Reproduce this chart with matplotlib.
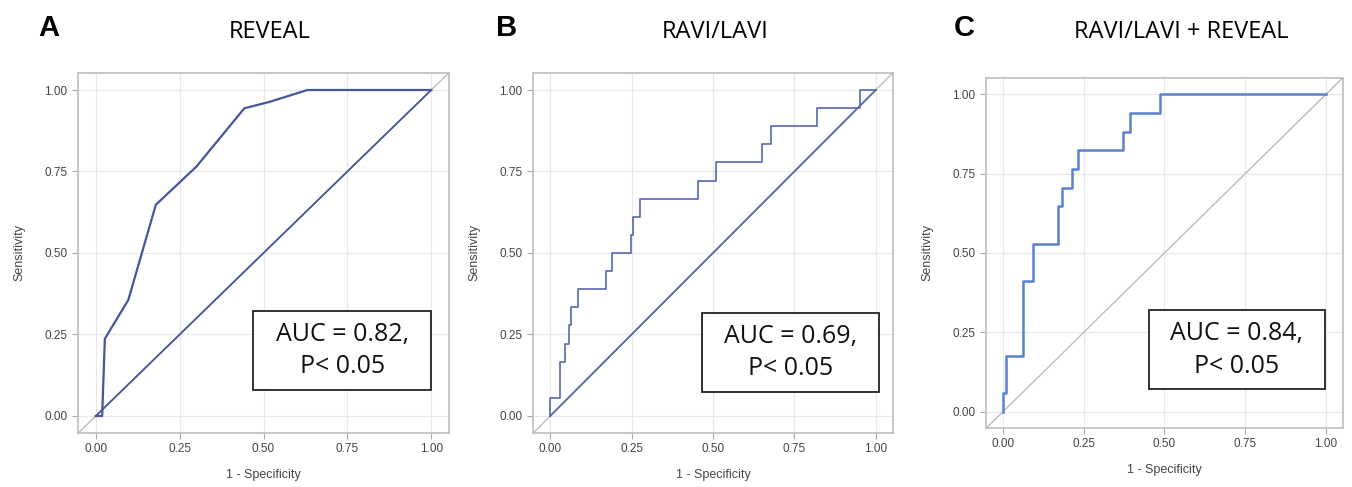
import matplotlib
matplotlib.use("Agg")
import matplotlib.pyplot as plt
from matplotlib.patches import Rectangle

# panel A - REVEAL (piecewise ROC)
reveal_fpr = [0.0, 0.019, 0.027, 0.097, 0.179, 0.300, 0.443, 0.516, 0.631, 1.0]
reveal_tpr = [0.0, 0.0, 0.237, 0.356, 0.648, 0.765, 0.944, 0.963, 1.0, 1.0]

# panel B - RAVI/LAVI (step ROC), corner points
ravi_fpr = [0.0, 0.0, 0.029, 0.029, 0.046, 0.046, 0.057, 0.057, 0.064, 0.064,
            0.084, 0.084, 0.172, 0.172, 0.190, 0.190, 0.247, 0.247, 0.254, 0.254,
            0.275, 0.275, 0.455, 0.455, 0.509, 0.509, 0.650, 0.650, 0.679, 0.679,
            0.820, 0.820, 0.952, 0.952, 1.0]
ravi_tpr = [0.0, 0.056, 0.056, 0.167, 0.167, 0.222, 0.222, 0.278, 0.278, 0.333,
            0.333, 0.389, 0.389, 0.444, 0.444, 0.500, 0.500, 0.556, 0.556, 0.611,
            0.611, 0.667, 0.667, 0.722, 0.722, 0.778, 0.778, 0.833, 0.833, 0.889,
            0.889, 0.944, 0.944, 1.0, 1.0]

# panel C - RAVI/LAVI + REVEAL (step ROC)
comb_fpr = [0.0, 0.0, 0.010, 0.010, 0.061, 0.061, 0.092, 0.092, 0.170, 0.170,
            0.183, 0.183, 0.214, 0.214, 0.231, 0.231, 0.373, 0.373, 0.392, 0.392,
            0.485, 0.485, 1.0]
comb_tpr = [0.0, 0.059, 0.059, 0.176, 0.176, 0.412, 0.412, 0.529, 0.529, 0.647,
            0.647, 0.706, 0.706, 0.765, 0.765, 0.824, 0.824, 0.882, 0.882, 0.941,
            0.941, 1.0, 1.0]

letters = ["A", "B", "C"]
titles = ["REVEAL", "RAVI/LAVI", "RAVI/LAVI + REVEAL"]
auc_text = ["AUC = 0.82,\nP< 0.05", "AUC = 0.69,\nP< 0.05", "AUC = 0.84,\nP< 0.05"]
ticks = [0.0, 0.25, 0.5, 0.75, 1.0]
tick_labels = ["0.00", "0.25", "0.50", "0.75", "1.00"]

curves = [(reveal_fpr, reveal_tpr), (ravi_fpr, ravi_tpr), (comb_fpr, comb_tpr)]
colors = ["#46559c", "#5667b0", "#5a80d0"]
widths = [1.6, 1.2, 1.8]
blue_diag = [True, True, False]

# layout (figure fractions) and AUC boxes (data coords)
axes_pos = [[0.0577, 0.111, 0.2744, 0.739],
            [0.3942, 0.111, 0.2663, 0.739],
            [0.7293, 0.121, 0.2640, 0.719]]
boxes = [(0.47, 0.08, 0.53, 0.242), (0.465, 0.073, 0.546, 0.244), (0.451, 0.07, 0.547, 0.25)]
letter_x = [0.036, 0.375, 0.713]
title_x = [270 / 1352, 715 / 1352, 1181 / 1352]

fig = plt.figure(figsize=(13.52, 4.87), dpi=100)
fig.patch.set_facecolor("white")

for i in range(3):
    ax = fig.add_axes(axes_pos[i])
    ax.set_xlim(-0.053, 1.053)
    ax.set_ylim(-0.052, 1.052)
    ax.set_xticks(ticks)
    ax.set_yticks(ticks)
    ax.set_xticklabels(tick_labels, family="Liberation Sans", fontsize=8.5, color="#444444")
    ax.set_yticklabels(tick_labels, family="Liberation Sans", fontsize=8.5, color="#444444")
    ax.tick_params(length=4, color="#aaaaaa", width=0.8)
    ax.grid(True, color="#e8e8ee", linewidth=0.9)
    ax.set_axisbelow(True)
    for s in ax.spines.values():
        s.set_color("#bdbdbd")
        s.set_linewidth(1.2)

    # reference diagonal across the whole frame
    ax.plot([-0.06, 1.06], [-0.06, 1.06], color="#bcbcbc", linewidth=1.0, zorder=2)
    if blue_diag[i]:
        ax.plot([0, 1], [0, 1], color=colors[i], linewidth=1.3, zorder=3)
    x, y = curves[i]
    ax.plot(x, y, color=colors[i], linewidth=widths[i], zorder=4)

    bx, by, bw, bh = boxes[i]
    ax.add_patch(Rectangle((bx, by), bw, bh, facecolor="white", edgecolor="#222222",
                           linewidth=1.3, zorder=5, clip_on=False))
    ax.text(bx + bw / 2, by + bh / 2, auc_text[i], ha="center", va="center",
            fontsize=18, family="Open Sans", color="#111111", zorder=6,
            linespacing=1.4)

    ax.set_xlabel("1 - Specificity", family="Liberation Sans", fontsize=9, color="#444444", labelpad=10)
    ax.set_ylabel("Sensitivity", family="Liberation Sans", fontsize=9, color="#444444", labelpad=14)

    fig.text(letter_x[i], 0.943, letters[i], fontsize=21, fontweight="bold",
             family="Liberation Sans", ha="center", va="center")
    fig.text(title_x[i], 0.935, titles[i], fontsize=17, family="Open Sans",
             ha="center", va="center")

fig.savefig("out.png", dpi=100, facecolor="white")
